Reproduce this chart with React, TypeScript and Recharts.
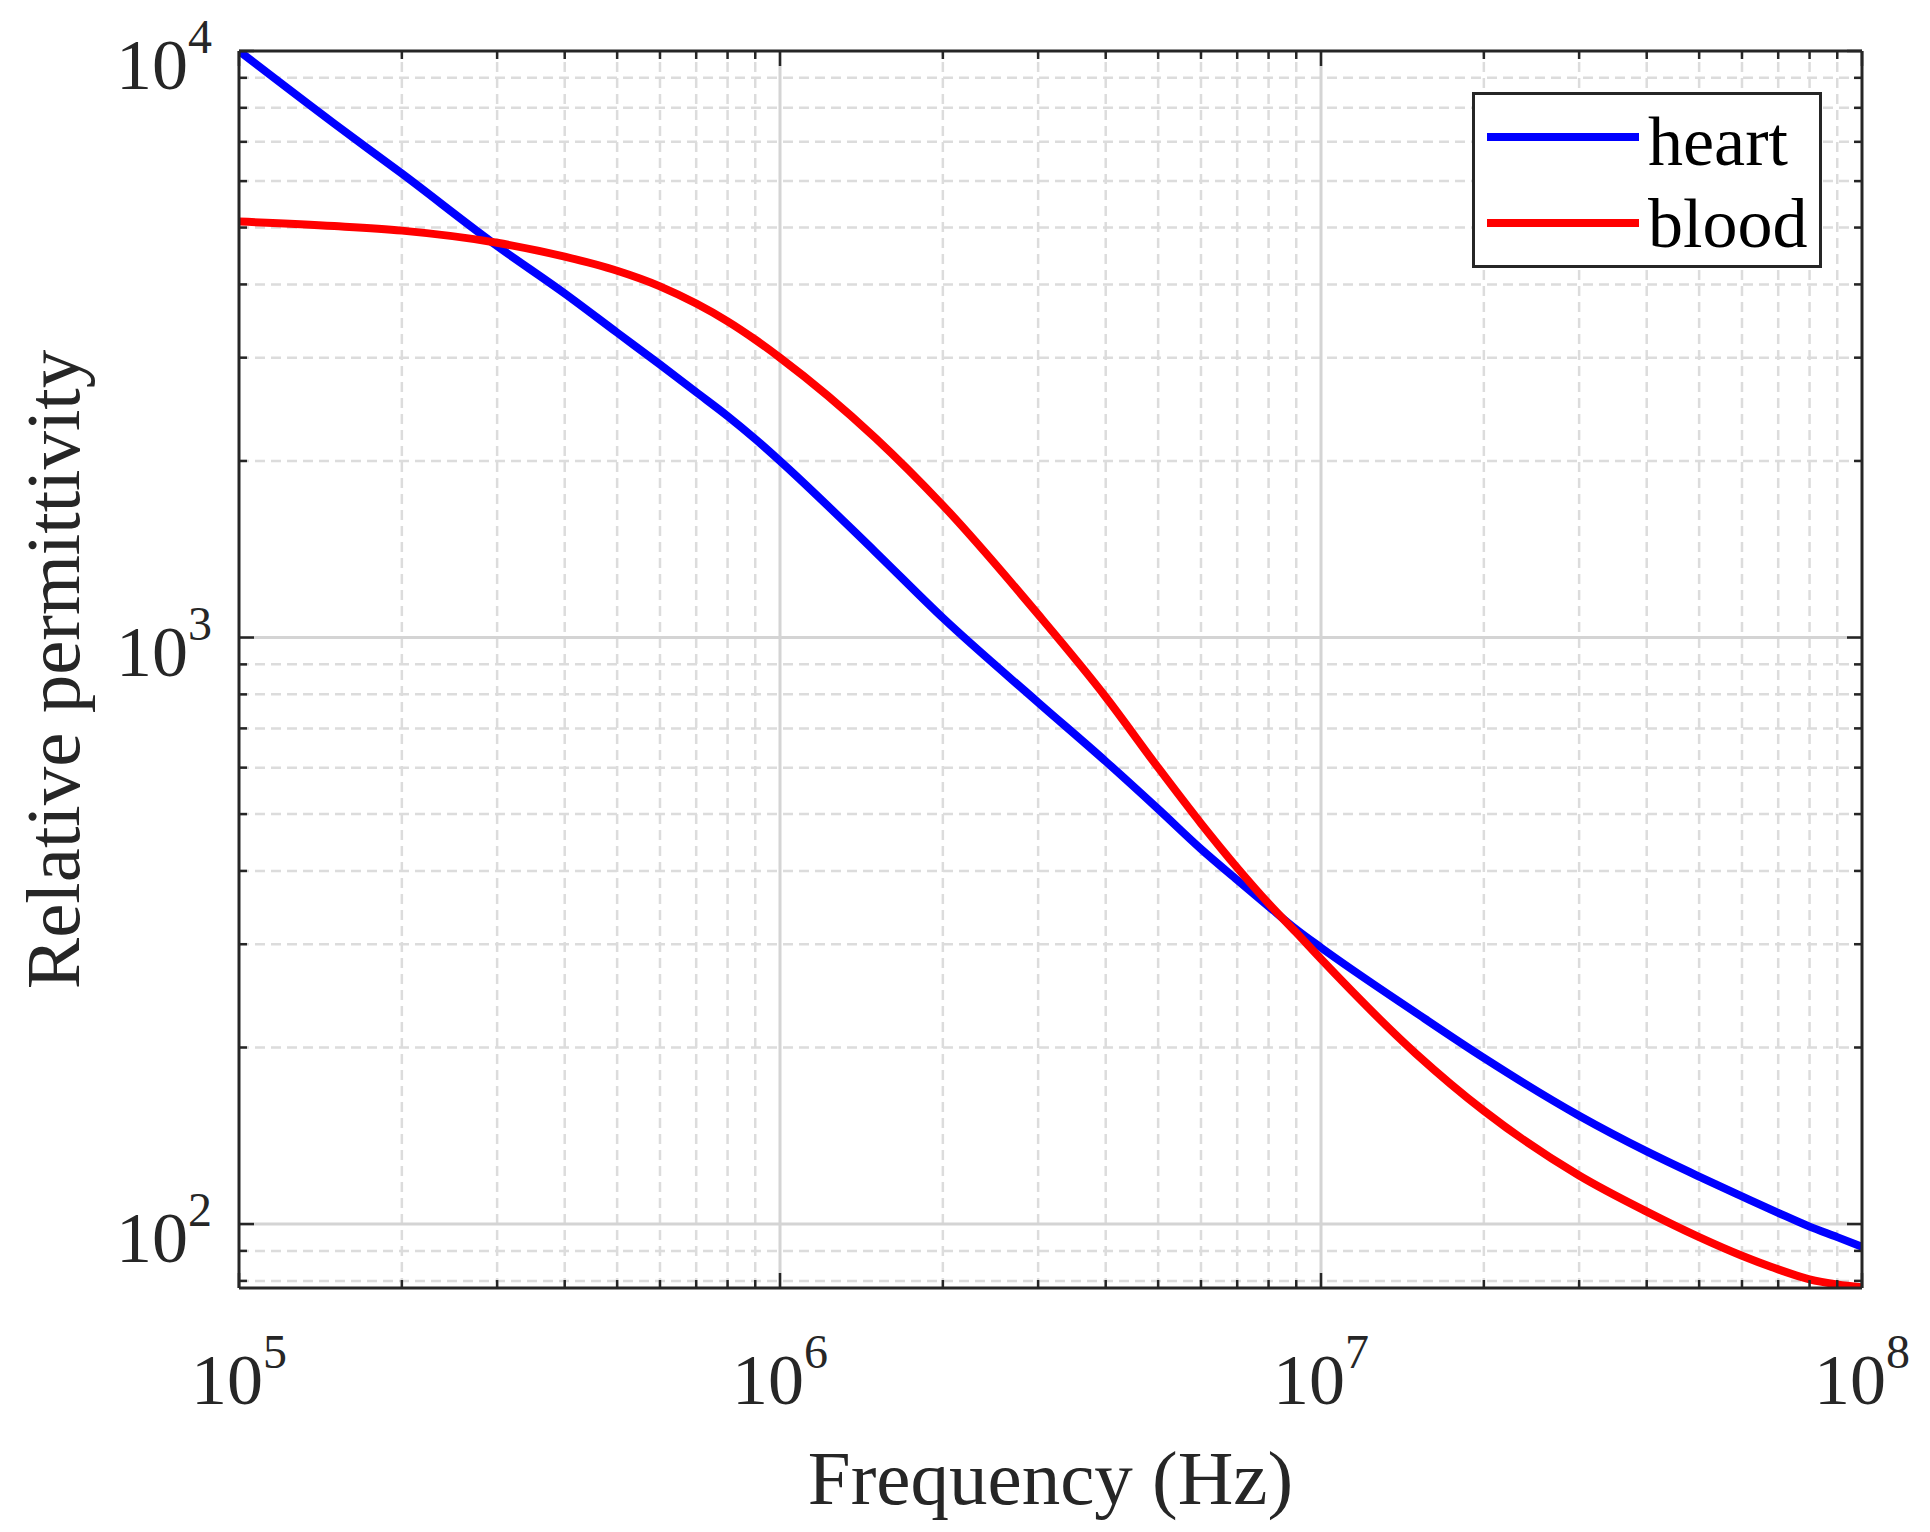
import React from 'react';
import { LineChart, Line, XAxis, YAxis, ReferenceLine, Legend } from 'recharts';

// frequency samples (Hz) and relative permittivity
const freqs = [
  1e5, 1.5e5, 2e5, 3e5, 4e5, 5e5, 6e5, 7e5, 8e5, 9e5,
  1e6, 1.5e6, 2e6, 3e6, 4e6, 5e6, 6e6, 7e6, 8e6, 9e6,
  1e7, 1.5e7, 2e7, 3e7, 4e7, 5e7, 6e7, 7e7, 8e7, 9e7, 1e8,
];
const heart = [
  10000, 7520, 6180, 4650, 3860, 3310, 2920, 2620, 2385, 2180,
  2000, 1400, 1080, 775, 615, 510, 436, 386, 348, 318,
  296, 229, 192, 153, 133, 120.5, 111.5, 104.5, 99, 95, 91.5,
];
const blood = [
  5120, 5030, 4940, 4710, 4460, 4220, 3970, 3710, 3460, 3220,
  3000, 2190, 1680, 1095, 792, 600, 482, 405, 352, 314,
  283, 195, 156, 121, 105, 95, 88.3, 83.7, 80.5, 78.9, 78,
];
const seriesNames = ['heart', 'blood'];

const xTicks = [
  1e5, 2e5, 3e5, 4e5, 5e5, 6e5, 7e5, 8e5, 9e5,
  1e6, 2e6, 3e6, 4e6, 5e6, 6e6, 7e6, 8e6, 9e6,
  1e7, 2e7, 3e7, 4e7, 5e7, 6e7, 7e7, 8e7, 9e7, 1e8,
];
const yTicks = [
  80, 90, 100, 200, 300, 400, 500, 600, 700, 800, 900,
  1000, 2000, 3000, 4000, 5000, 6000, 7000, 8000, 9000, 10000,
];
const xDomain: [number, number] = [1e5, 1e8];
const yDomain: [number, number] = [77.8, 10000];

const data = freqs.map((f, i) => ({ freq: f, heart: heart[i], blood: blood[i] }));

const FONT = '"Liberation Serif", "Times New Roman", serif';
const INK = '#262626';
const AXIS_W = 3;
const MAJOR_LEN = 15;
const MINOR_LEN = 8;
const LINE_W = 8;

const isDecade = (v: number) => Math.abs(Math.log10(v) - Math.round(Math.log10(v))) < 1e-9;
const exponent = (v: number) => Math.round(Math.log10(v));

const xGridMinor = xTicks.filter(v => !isDecade(v));
const xGridMajor = xTicks.filter(v => isDecade(v) && v > xDomain[0] && v < xDomain[1]);
const yGridMinor = yTicks.filter(v => !isDecade(v));
const yGridMajor = yTicks.filter(v => isDecade(v) && v < yDomain[1]);

const PowerLabel = ({ x, y, value, anchor }: { x: number; y: number; value: number; anchor: 'middle' | 'end' }) => (
  <text x={x} y={y} textAnchor={anchor} fontFamily={FONT} fontSize={72} fill={INK}>
    10
    <tspan dy={-36} fontSize={48}>{exponent(value)}</tspan>
  </text>
);

const BottomTick = (props: any) => {
  const { x, y, payload } = props;
  const major = isDecade(payload.value);
  return (
    <g>
      <line x1={x} y1={y} x2={x} y2={y - (major ? MAJOR_LEN : MINOR_LEN)} stroke={INK} strokeWidth={2.5} />
      {major && <PowerLabel x={x} y={y + 116} value={payload.value} anchor="middle" />}
    </g>
  );
};

const TopTick = (props: any) => {
  const { x, y, payload } = props;
  const major = isDecade(payload.value);
  return <line x1={x} y1={y} x2={x} y2={y + (major ? MAJOR_LEN : MINOR_LEN)} stroke={INK} strokeWidth={2.5} />;
};

const LeftTick = (props: any) => {
  const { x, y, payload } = props;
  const major = isDecade(payload.value);
  return (
    <g>
      <line x1={x} y1={y} x2={x + (major ? MAJOR_LEN : MINOR_LEN)} y2={y} stroke={INK} strokeWidth={2.5} />
      {major && <PowerLabel x={x - 27} y={y + 38} value={payload.value} anchor="end" />}
    </g>
  );
};

const RightTick = (props: any) => {
  const { x, y, payload } = props;
  const major = isDecade(payload.value);
  return <line x1={x} y1={y} x2={x - (major ? MAJOR_LEN : MINOR_LEN)} y2={y} stroke={INK} strokeWidth={2.5} />;
};

const XTitle = (props: any) => {
  const { x, y, width } = props.viewBox;
  return (
    <text x={x + width / 2} y={y + 216} textAnchor="middle" fontFamily={FONT} fontSize={77} fill={INK}>
      Frequency (Hz)
    </text>
  );
};

const YTitle = (props: any) => {
  const { x, y, height } = props.viewBox;
  const tx = x + 79;
  const ty = y + height / 2;
  return (
    <text
      x={tx}
      y={ty}
      transform={`rotate(-90 ${tx} ${ty})`}
      textAnchor="middle"
      fontFamily={FONT}
      fontSize={77}
      fill={INK}
    >
      Relative permittivity
    </text>
  );
};

const LegendBox = ({ payload }: any) => {
  const items = [...(payload || [])].sort(
    (a: any, b: any) => seriesNames.indexOf(a.value) - seriesNames.indexOf(b.value)
  );
  return (
    <svg width={350} height={176} style={{ display: 'block' }}>
      <rect x={1.5} y={1.5} width={347} height={173} fill="#fff" stroke={INK} strokeWidth={3} />
      {items.map((entry: any, i: number) => (
        <g key={entry.value}>
          <line x1={15} y1={45 + i * 86} x2={167} y2={45 + i * 86} stroke={entry.color} strokeWidth={LINE_W} />
          <text x={176} y={73 + i * 82} fontFamily={FONT} fontSize={70} fill="#000">
            {entry.value}
          </text>
        </g>
      ))}
    </svg>
  );
};

export default function App() {
  const gridProps = { xAxisId: 'b', yAxisId: 'l', ifOverflow: 'hidden' as const };
  return (
    <div style={{ position: 'absolute', left: 0, top: 0, width: 1930, height: 1532, background: '#fff' }}>
      <LineChart width={1930} height={1532} data={data} margin={{ top: 50, right: 67, left: 0, bottom: 0 }}>
        <XAxis
          xAxisId="b"
          dataKey="freq"
          type="number"
          scale="log"
          domain={xDomain}
          ticks={xTicks}
          interval={0}
          allowDataOverflow
          height={244}
          tickSize={0}
          tickMargin={0}
          tickLine={false}
          tick={BottomTick}
          axisLine={{ stroke: INK, strokeWidth: AXIS_W }}
          label={XTitle}
        />
        <XAxis
          xAxisId="t"
          orientation="top"
          dataKey="freq"
          type="number"
          scale="log"
          domain={xDomain}
          ticks={xTicks}
          interval={0}
          allowDataOverflow
          height={1}
          tickSize={0}
          tickMargin={0}
          tickLine={false}
          tick={TopTick}
          axisLine={{ stroke: INK, strokeWidth: AXIS_W }}
        />
        <YAxis
          yAxisId="l"
          type="number"
          scale="log"
          domain={yDomain}
          ticks={yTicks}
          interval={0}
          allowDataOverflow
          width={239}
          tickSize={0}
          tickMargin={0}
          tickLine={false}
          tick={LeftTick}
          axisLine={{ stroke: INK, strokeWidth: AXIS_W }}
          label={YTitle}
        />
        <YAxis
          yAxisId="r"
          orientation="right"
          type="number"
          scale="log"
          domain={yDomain}
          ticks={yTicks}
          interval={0}
          allowDataOverflow
          width={1}
          tickSize={0}
          tickMargin={0}
          tickLine={false}
          tick={RightTick}
          axisLine={{ stroke: INK, strokeWidth: AXIS_W }}
        />

        {xGridMinor.map(v => (
          <ReferenceLine key={`xm${v}`} x={v} {...gridProps} stroke="#dcdcdc" strokeWidth={2.5} strokeDasharray="10 6" />
        ))}
        {yGridMinor.map(v => (
          <ReferenceLine key={`ym${v}`} y={v} {...gridProps} stroke="#dcdcdc" strokeWidth={2.5} strokeDasharray="10 6" />
        ))}
        {xGridMajor.map(v => (
          <ReferenceLine key={`xM${v}`} x={v} {...gridProps} stroke="#d4d4d4" strokeWidth={3} />
        ))}
        {yGridMajor.map(v => (
          <ReferenceLine key={`yM${v}`} y={v} {...gridProps} stroke="#d4d4d4" strokeWidth={3} />
        ))}

        <Line
          xAxisId="b"
          yAxisId="l"
          type="monotone"
          dataKey="heart"
          name="heart"
          stroke="#0000ff"
          strokeWidth={LINE_W}
          dot={false}
          activeDot={false}
          isAnimationActive={false}
        />
        <Line
          xAxisId="b"
          yAxisId="l"
          type="monotone"
          dataKey="blood"
          name="blood"
          stroke="#ff0000"
          strokeWidth={LINE_W}
          dot={false}
          activeDot={false}
          isAnimationActive={false}
        />

        <Legend
          layout="vertical"
          align="center"
          verticalAlign="middle"
          content={LegendBox}
          wrapperStyle={{ left: 1472, top: 92, width: 350, height: 176 }}
        />
      </LineChart>
    </div>
  );
}
